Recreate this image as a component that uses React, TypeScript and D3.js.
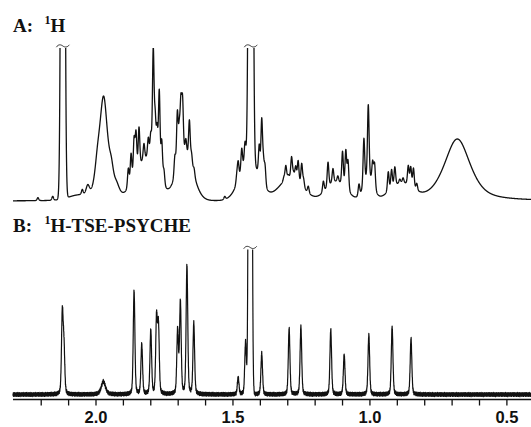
import React, { useMemo } from "react";
import * as d3 from "d3";

const WIDTH = 531;
const HEIGHT = 427;

// Chemical-shift axis (ppm, decreasing to the right)
const ppmStart = 2.303;
const ppmEnd = 0.412;
const labelTicks = [2.0, 1.5, 1.0, 0.5];
const minorTicks = [2.2, 2.1, 1.9, 1.8, 1.7, 1.6, 1.4, 1.3, 1.2, 1.1, 0.9, 0.8, 0.7, 0.6];

// Panel A: conventional 1H spectrum
// sharp multiplet lines (shared line width)
const protonSharpShift = [
  2.212, 2.158, 2.05,
  1.882, 1.872, 1.861, 1.854, 1.843, 1.825, 1.809, 1.8, 1.791, 1.784, 1.777, 1.769, 1.76, 1.752,
  1.712, 1.703, 1.696, 1.69, 1.684, 1.672, 1.659, 1.651, 1.642,
  1.53,
  1.486, 1.481, 1.468, 1.456, 1.404, 1.395, 1.389, 1.383,
  1.314, 1.307, 1.298, 1.286, 1.279, 1.271, 1.262, 1.249, 1.242, 1.225,
  1.17, 1.153, 1.135, 1.117, 1.1, 1.088, 1.08,
  1.04, 1.022, 1.006, 0.99, 0.983,
  0.933, 0.921, 0.909, 0.891, 0.879, 0.86, 0.851, 0.841, 0.829,
];
const protonSharpHeight = [
  3, 4, 5,
  20, 30, 38, 40, 40, 16, 20, 24, 113, 45, 40, 85, 40, 15,
  20, 55, 30, 52, 52, 14, 40, 12, 7,
  3,
  8, 18, 23, 22, 30, 60, 20, 20,
  4, 14, 3, 21, 5, 13, 21, 22, 8, 7,
  11, 25, 14, 6, 34, 38, 30,
  12, 48, 74, 22, 25,
  20, 19, 19, 4, 5, 19, 19, 20, 7,
];
// broad components, envelopes and the two off-scale singlets
const protonBroadShift = [2.121, 2.07, 2.03, 1.995, 1.972, 1.944, 1.925, 1.815, 1.675, 1.44, 1.435, 1.29, 1.125, 1.005, 0.885, 0.681];
const protonBroadHeight = [1200, 4, 9, 22, 100, 20, 10, 40, 45, 40, 1200, 22, 18, 20, 15, 62];
const protonBroadWidth = [0.006, 0.04, 0.007, 0.012, 0.017, 0.01, 0.012, 0.045, 0.035, 0.04, 0.0064, 0.05, 0.04, 0.02, 0.045, 0.056];
const protonBroadLorentz = [0, 0, 0.3, 0.5, 0.5, 0.5, 0.5, 0, 0, 0, 0, 0, 0, 0, 0, 0.6];

// Panel B: pure-shift 1H-TSE-PSYCHE spectrum
const psycheShift = [
  2.123, 2.117, 1.861, 1.833, 1.8, 1.779, 1.772, 1.702, 1.692, 1.668, 1.643,
  1.481, 1.454, 1.395, 1.295, 1.252, 1.143, 1.094, 1.004, 0.919, 0.85,
];
const psycheHeight = [
  80, 46, 104, 50, 64, 76, 67, 64, 92, 129, 71,
  17, 53, 41, 66, 68, 65, 40, 60, 68, 56,
];
const psycheBroadShift = [1.973, 1.437];
const psycheBroadHeight = [13, 1500];
const psycheBroadWidth = [0.009, 0.0048];

// baseline noise of the pure-shift trace (intensity units)
const baselineNoise = [
  0.5, -1.3, 1.6, -0.2, 1.1, -1.9, 0.1, 1.8, -0.8, 0.4, -1.6, 1.2, -0.5, 2.0, -1.1, 0.2,
  -1.8, 1.0, -0.1, 1.4, -1.4, 0.6, -0.7, 1.9, -1.2, 0.0, 1.3, -2.0, 0.7, -0.4, 1.7, -1.0,
  0.4, -1.7, 1.1, -0.6, 2.1, -1.3, 0.2, -0.2, 1.2, -1.9, 0.8, -1.1, 1.6, 0.1, -1.6, 0.5,
  -0.8, 1.8, -1.2, 0.7, -2.1, 1.1, -0.2, 1.4, -0.7, 0.4, -1.4, 1.9, -0.5, 1.0, -1.8, 0.0,
  1.3, -1.0, 0.6, -1.3, 1.7, -0.4, 0.2, -1.7, 1.2, -0.7, 2.0, -1.2, 0.5, -0.1, 1.4, -2.0,
  0.8, -0.6, 1.6, -1.1, 0.1, -1.4, 1.1, -0.4, 1.8,
];

const SHARP_WIDTH = 0.0035;
const SHARP_LORENTZ = 0.3;
const STEP = 0.0005;

const CLIP_A = 153;
const CLIP_B = 145;

// pseudo-Voigt line shape, unit height, half-width w
function lineShape(d: number, w: number, eta: number) {
  const r = (d / w) * (d / w);
  return eta / (1 + r) + (1 - eta) * Math.exp(-Math.LN2 * r);
}

type Peak = { shift: number; height: number; width: number; eta: number };

function buildPeaks(
  sharpShift: number[], sharpHeight: number[],
  broadShift: number[], broadHeight: number[], broadWidth: number[], broadEta: number[]
): Peak[] {
  const peaks: Peak[] = sharpShift.map((s, i) => ({ shift: s, height: sharpHeight[i], width: SHARP_WIDTH, eta: SHARP_LORENTZ }));
  broadShift.forEach((s, i) => peaks.push({ shift: s, height: broadHeight[i], width: broadWidth[i], eta: broadEta[i] }));
  return peaks;
}

function synthesize(peaks: Peak[], noise: number[] | null): [number, number][] {
  const pts: [number, number][] = [];
  const n = Math.round((ppmStart - ppmEnd) / STEP);
  for (let i = 0; i <= n; i++) {
    const ppm = ppmStart - i * STEP;
    let v = 0;
    for (const p of peaks) {
      const d = ppm - p.shift;
      if (Math.abs(d) > 60 * p.width && p.height < 500) continue;
      v += p.height * lineShape(d, p.width, p.eta);
    }
    if (noise) v += noise[i % noise.length];
    pts.push([ppm, v]);
  }
  return pts;
}

function Tilde({ x, y }: { x: number; y: number }) {
  return (
    <path
      d={`M${x - 6.5},${y + 1.2} C${x - 4.5},${y - 2} ${x - 2},${y - 1.5} ${x},${y} S${x + 4.5},${y + 1.5} ${x + 6.5},${y - 1.2}`}
      fill="none"
      stroke="#333"
      strokeWidth={1}
    />
  );
}

export default function App() {
  const x = d3.scaleLinear().domain([ppmStart, ppmEnd]).range([13, 531]);
  const yA = d3.scaleLinear().domain([0, CLIP_A]).range([201, 48]);
  const yB = d3.scaleLinear().domain([0, CLIP_B]).range([394.5, 249.5]);

  const protonPeaks = useMemo(
    () => buildPeaks(protonSharpShift, protonSharpHeight, protonBroadShift, protonBroadHeight, protonBroadWidth, protonBroadLorentz),
    []
  );
  const psychePeaks = useMemo(
    () => buildPeaks(psycheShift, psycheHeight, psycheBroadShift, psycheBroadHeight, psycheBroadWidth, [0.5, 0]),
    []
  );

  const dataA = useMemo(() => synthesize(protonPeaks, null), [protonPeaks]);
  const dataB = useMemo(() => synthesize(psychePeaks, baselineNoise), [psychePeaks]);

  const lineA = d3.line<[number, number]>().x((d) => x(d[0])).y((d) => yA(Math.min(d[1], CLIP_A + 20)));
  const lineB = d3.line<[number, number]>().x((d) => x(d[0])).y((d) => yB(Math.min(d[1], CLIP_B + 20)));

  const clippedA = protonBroadShift.filter((_, i) => protonBroadHeight[i] > CLIP_A);
  const clippedB = psycheBroadShift.filter((_, i) => psycheBroadHeight[i] > CLIP_B);

  const axisY = 399.5;
  const serif = "'Liberation Serif', 'Times New Roman', Times, serif";
  const sans = "'Liberation Sans', Arial, Helvetica, sans-serif";

  return (
    <svg
      width={WIDTH}
      height={HEIGHT}
      viewBox={`0 0 ${WIDTH} ${HEIGHT}`}
      style={{ position: "absolute", left: 0, top: 0, background: "#fff" }}
    >
      <defs>
        <clipPath id="clipA">
          <rect x={0} y={yA(CLIP_A)} width={WIDTH} height={210 - yA(CLIP_A)} />
        </clipPath>
        <clipPath id="clipB">
          <rect x={0} y={yB(CLIP_B)} width={WIDTH} height={axisY - yB(CLIP_B)} />
        </clipPath>
      </defs>

      {/* panel titles */}
      <g fontFamily={serif} fontWeight="bold" fill="#111">
        <text x={13} y={31.7} fontSize={19}>A:</text>
        <text x={44.5} y={23.5} fontSize={12}>1</text>
        <text x={50.5} y={31.7} fontSize={19}>H</text>
        <text x={13} y={231.7} fontSize={19}>B:</text>
        <text x={44.5} y={223.5} fontSize={12}>1</text>
        <text x={50.5} y={231.7} fontSize={19}>H-TSE-PSYCHE</text>
      </g>

      {/* spectra */}
      <path d={lineA(dataA) ?? ""} fill="none" stroke="#111" strokeWidth={1.3} strokeLinejoin="round" clipPath="url(#clipA)" />
      <path d={lineB(dataB) ?? ""} fill="none" stroke="#111" strokeWidth={1.2} strokeLinejoin="round" clipPath="url(#clipB)" />

      {clippedA.map((s) => (
        <Tilde key={`a${s}`} x={x(s)} y={yA(CLIP_A) - 2} />
      ))}
      {clippedB.map((s) => (
        <Tilde key={`b${s}`} x={x(s)} y={yB(CLIP_B) - 2} />
      ))}

      {/* ppm axis */}
      <line x1={13} x2={WIDTH} y1={axisY} y2={axisY} stroke="#111" strokeWidth={1.6} />
      {[...labelTicks, ...minorTicks].map((t) => (
        <line key={`t${t}`} x1={x(t)} x2={x(t)} y1={axisY} y2={axisY + 6} stroke="#111" strokeWidth={1.3} />
      ))}
      <g fontFamily={sans} fontWeight="bold" fontSize={16.5} fill="#111" textAnchor="middle">
        {labelTicks.map((t) => (
          <text key={`l${t}`} x={x(t)} y={423.3}>
            {t.toFixed(1)}
          </text>
        ))}
      </g>
    </svg>
  );
}
